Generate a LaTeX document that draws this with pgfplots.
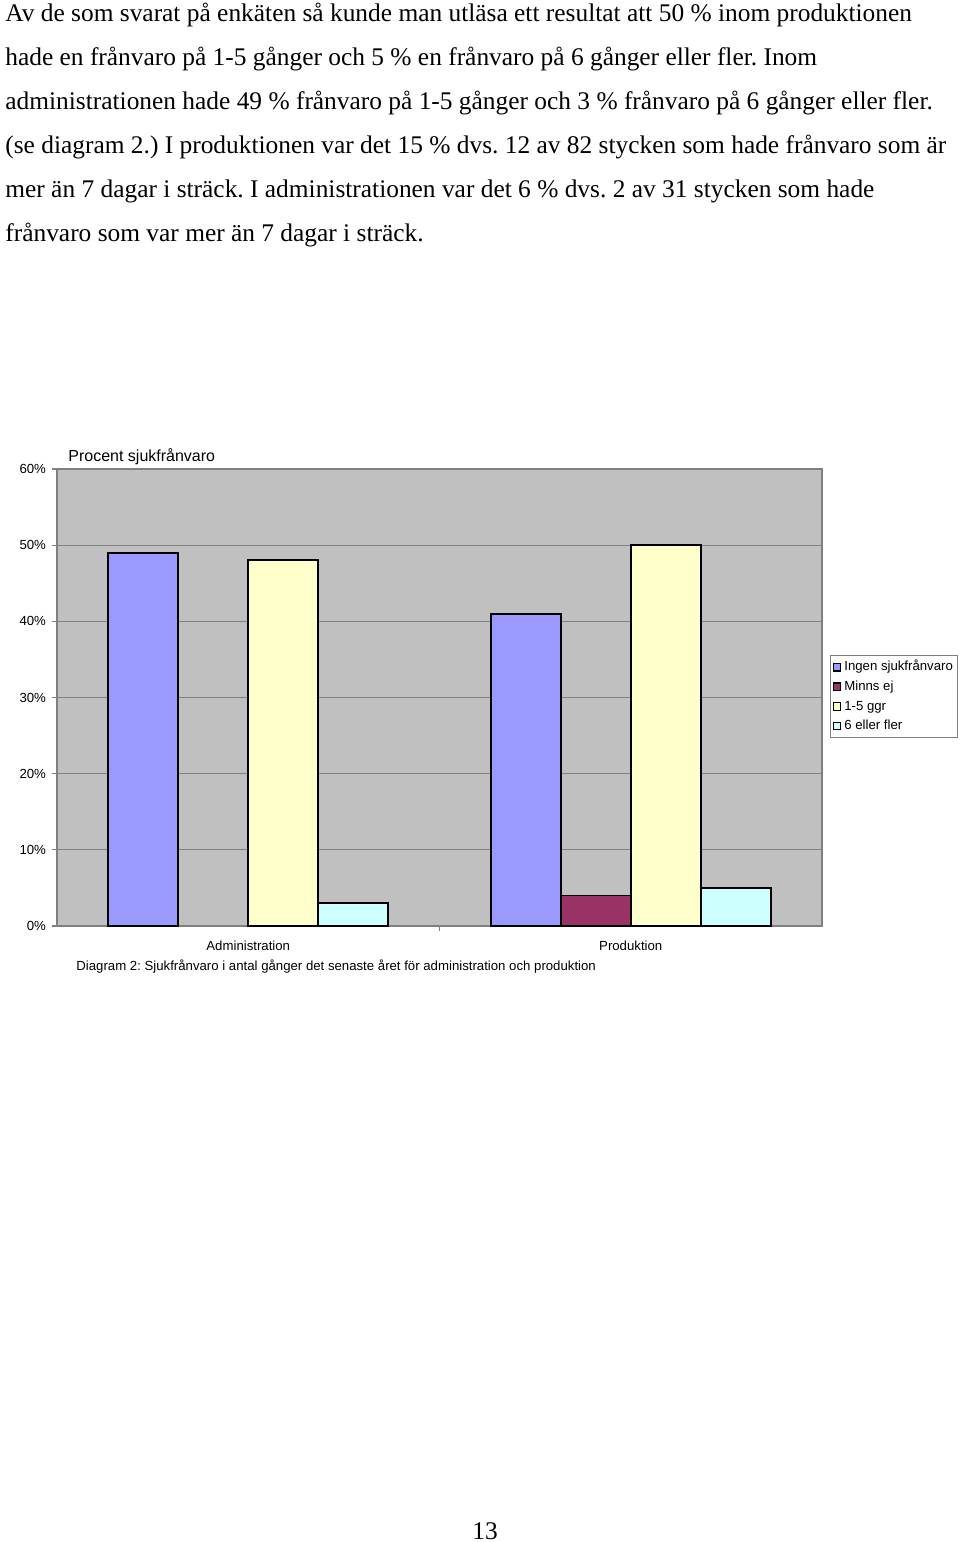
\documentclass[border=0pt]{standalone}
\usepackage{pgfplots}
\pgfplotsset{compat=1.18}
\usepackage{fontspec}
\setmainfont{Liberation Serif}
\newfontfamily\arial{Liberation Sans}

\definecolor{ingen}{HTML}{9999FF}
\definecolor{minns}{HTML}{993366}
\definecolor{ggr}{HTML}{FFFFCC}
\definecolor{fler}{HTML}{CCFFFF}
\definecolor{plotbg}{HTML}{C0C0C0}
\definecolor{gridc}{HTML}{808080}

\newcommand{\chartfont}{\arial\fontsize{6.6}{8}\selectfont}
\newcommand{\titlefont}{\arial\fontsize{8}{9.6}\selectfont}
\frenchspacing

\begin{document}
\begin{tikzpicture}[x=0.5pt,y=0.5pt]
\path[use as bounding box,fill=white] (0,0) rectangle (960,1542);

% body text, one node per line
\begin{scope}[every node/.style={anchor=base west,inner sep=0pt,font=\fontsize{12.7}{14}\selectfont}]
\node at (5,1520) {Av de som svarat på enkäten så kunde man utläsa ett resultat att 50 \% inom produktionen};
\node at (5,1476) {hade en frånvaro på 1-5 gånger och 5 \% en frånvaro på 6 gånger eller fler. Inom};
\node at (5,1432) {administrationen hade 49 \% frånvaro på 1-5 gånger och 3 \% frånvaro på 6 gånger eller fler.};
\node at (5,1388) {(se diagram 2.) I produktionen var det 15 \% dvs. 12 av 82 stycken som hade frånvaro som är};
\node at (5,1344) {mer än 7 dagar i sträck. I administrationen var det 6 \% dvs. 2 av 31 stycken som hade};
\node at (5,1300) {frånvaro som var mer än 7 dagar i sträck.};
\end{scope}

\begin{axis}[
  at={(28.5pt,308pt)}, anchor=south west,
  width=382.5pt, height=228.5pt, scale only axis,
  axis background/.style={fill=plotbg},
  axis line style={gridc, line width=1pt},
  ybar, bar width=35pt,
  xmin=-0.5, xmax=1.5,
  ymin=0, ymax=60,
  xtick={0,1}, xticklabels={Administration,Produktion},
  minor xtick={0.5},
  ytick={0,10,...,60},
  yticklabel={\pgfmathprintnumber{\tick}\%},
  tick align=outside, tick pos=left,
  major x tick style={draw=none},
  major tick length=2.5pt, minor tick length=2.5pt,
  tick style={gridc, line width=0.6pt},
  ymajorgrids, grid style={gridc, line width=0.6pt},
  ticklabel style={font=\chartfont},
  /pgf/number format/assume math mode=true,
  xticklabel style={yshift=-1.2pt},
  yticklabel style={xshift=0.5pt},
  legend style={at={(rel axis cs:1.0105,0.593)}, anchor=north west,
    draw=gridc, line width=0.5pt, font=\chartfont, inner sep=1pt,
    row sep=0pt, nodes={inner sep=1.5pt, text height=5.2pt, text depth=1.6pt},
    cells={anchor=west}},
  legend image code/.code={\draw[#1, draw=black, line width=0.6pt] (1pt,-1.9pt) rectangle (4.8pt,1.9pt);},
  clip=false,
]
\addplot[fill=ingen, draw=black, line width=0.9pt, bar shift=-52.5pt] coordinates {(0,49) (1,41)};
\addplot[fill=minns, draw=black, line width=0.9pt, bar shift=-17.5pt] coordinates {(1,4)}; % Administration: 0
\addplot[fill=ggr, draw=black, line width=0.9pt, bar shift=17.5pt] coordinates {(0,48) (1,50)};
\addplot[fill=fler, draw=black, line width=0.9pt, bar shift=52.5pt] coordinates {(0,3) (1,5)};
\legend{Ingen sjukfrånvaro, Minns ej, 1-5 ggr, 6 eller fler}
\end{axis}

\node[anchor=west, inner sep=0pt, font=\titlefont] at (68,1085) {Procent sjukfrånvaro};
\node[anchor=west, inner sep=0pt, font=\chartfont] at (76,575) {Diagram 2: Sjukfrånvaro i antal gånger det senaste året för administration och produktion};
\node[anchor=base, inner sep=0pt, font=\fontsize{12.7}{14}\selectfont] at (485,3) {13};
\end{tikzpicture}
\end{document}
